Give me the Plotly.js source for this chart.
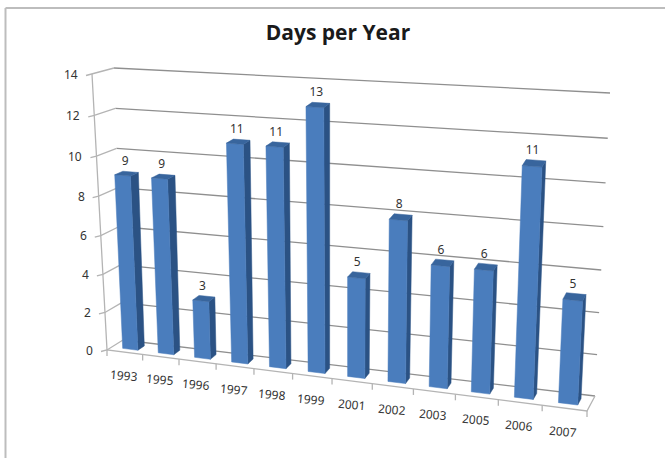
<!DOCTYPE html>
<html>
<head>
<meta charset="utf-8">
<script src="https://cdn.plot.ly/plotly-3.0.1.min.js"></script>
<style>html,body{margin:0;padding:0;background:#fff}#chart{width:665px;height:458px}</style>
</head>
<body>
<div id="chart"></div>
<script>
// Days per year, one column per year
const years = ['1993','1995','1996','1997','1998','1999','2001','2002','2003','2005','2006','2007'];
const days = [9, 9, 3, 11, 11, 13, 5, 8, 6, 6, 11, 5];
const valueTicks = [0, 2, 4, 6, 8, 10, 12, 14];
const chartTitle = 'Days per Year';

const valueMax = 14;
const frontPlane = {bl: [107, 350], br: [587, 411], tl: [92, 74], tr: [602, 108]};
const backPlane = {bl: [123, 340], br: [595, 396], tl: [114, 68], tr: [610, 93]};
const barStart = 0.31, barEnd = 0.74, depthNear = 0.3, depthFar = 0.72;
const foreshorten = 0.025;

const ink = '#333333', gridColor = '#8f8f8f', axisColor = '#b4b4b4';
const frontColor = '#4a7dbd', sideColor = '#2b5284', topColor = '#38659d';

// Perspective map of a unit square on to a four-cornered plane
function planeMap(c) {
  const dx1 = c.br[0] - c.tr[0], dx2 = c.tl[0] - c.tr[0], sx = c.bl[0] - c.br[0] + c.tr[0] - c.tl[0];
  const dy1 = c.br[1] - c.tr[1], dy2 = c.tl[1] - c.tr[1], sy = c.bl[1] - c.br[1] + c.tr[1] - c.tl[1];
  const det = dx1 * dy2 - dx2 * dy1;
  const g = (sx * dy2 - dx2 * sy) / det, h = (dx1 * sy - sx * dy1) / det;
  const a = c.br[0] - c.bl[0] + g * c.br[0], b = c.tl[0] - c.bl[0] + h * c.tl[0];
  const d = c.br[1] - c.bl[1] + g * c.br[1], e = c.tl[1] - c.bl[1] + h * c.tl[1];
  return (u, v) => {
    const w = g * u + h * v + 1;
    return [(a * u + b * v + c.bl[0]) / w, (d * u + e * v + c.bl[1]) / w];
  };
}
const onFront = planeMap(frontPlane), onBack = planeMap(backPlane);

// slot: position along the category axis in slots, value: axis value, depth: 0 front to 1 back
function project(slot, value, depth) {
  const s = slot / years.length;
  const u = s / (1 + foreshorten * (1 - s));
  const f = onFront(u, value / valueMax);
  const b = onBack(u, value / valueMax);
  return [f[0] + (b[0] - f[0]) * depth, f[1] + (b[1] - f[1]) * depth];
}

function pathTrace(points, opts) {
  return Object.assign({
    x: points.map(p => p ? p[0] : null),
    y: points.map(p => p ? p[1] : null),
    mode: 'lines', hoverinfo: 'skip', showlegend: false, connectgaps: false
  }, opts);
}

// Gridlines along the back wall, in a darker grey than the axes
const wallLines = [];
valueTicks.forEach(t => {
  wallLines.push(project(0, t, 1), project(years.length, t, 1), null);
});

// Side wall runs, axis edges and tick marks
const axisLines = [];
valueTicks.forEach(t => {
  const p = project(0, t, 0);
  axisLines.push([p[0] - 6, p[1] + 1.5], p, project(0, t, 1), null);
});
axisLines.push(project(0, valueMax, 0), project(0, 0, 0), project(years.length, 0, 0), project(years.length, 0, 1), null);
for (let i = 0; i <= years.length; i++) {
  const p = project(i, 0, 0);
  axisLines.push(p, [p[0], p[1] + 6], null);
}

// Column faces
const fronts = [], sides = [], tops = [];
days.forEach((v, i) => {
  const a = i + barStart, b = i + barEnd;
  fronts.push(project(a, 0, depthNear), project(b, 0, depthNear), project(b, v, depthNear), project(a, v, depthNear), project(a, 0, depthNear), null);
  sides.push(project(b, 0, depthNear), project(b, 0, depthFar), project(b, v, depthFar), project(b, v, depthNear), project(b, 0, depthNear), null);
  tops.push(project(a, v, depthNear), project(b, v, depthNear), project(b, v, depthFar), project(a, v, depthFar), project(a, v, depthNear), null);
});

const faceStyle = color => ({fill: 'toself', fillcolor: color, line: {color: color, width: 0.5}});

const valuePoints = days.map((v, i) => {
  const p = project(i + (barStart + barEnd) / 2, v, (depthNear + depthFar) / 2);
  return [p[0] - 1.5, p[1] - 12];
});

const traces = [
  pathTrace(wallLines, {line: {color: gridColor, width: 1.3}}),
  pathTrace(axisLines, {line: {color: axisColor, width: 1.3}}),
  pathTrace(sides, faceStyle(sideColor)),
  pathTrace(fronts, faceStyle(frontColor)),
  pathTrace(tops, faceStyle(topColor)),
  {
    x: valuePoints.map(p => p[0]), y: valuePoints.map(p => p[1]),
    text: days.map(String), mode: 'text', textposition: 'middle center',
    textfont: {family: 'Noto Sans, sans-serif', size: 12, color: ink},
    hoverinfo: 'skip', showlegend: false
  }
];

const annotations = [];
years.forEach((y, i) => {
  const p = project(i + 0.5, 0, 0);
  annotations.push({
    x: p[0] - 1, y: p[1] + 23, text: y, showarrow: false, textangle: 5,
    xanchor: 'center', yanchor: 'middle',
    font: {family: 'Noto Sans, sans-serif', size: 12, color: ink}
  });
});
valueTicks.forEach(t => {
  const p = project(0, t, 0);
  annotations.push({
    x: p[0] - 12, y: p[1], text: String(t), showarrow: false,
    xanchor: 'right', yanchor: 'middle',
    font: {family: 'Noto Sans, sans-serif', size: 12, color: ink}
  });
});

const hiddenAxis = range => ({range, visible: false, fixedrange: true});

Plotly.newPlot('chart', traces, {
  width: 665, height: 458,
  margin: {l: 0, r: 0, t: 0, b: 0, pad: 0},
  paper_bgcolor: '#ffffff', plot_bgcolor: '#ffffff',
  title: {text: '<b>' + chartTitle + '</b>', x: 338 / 665, xanchor: 'center', y: 1 - 33 / 458, yanchor: 'middle',
          font: {family: 'Open Sans, sans-serif', size: 21, color: '#1a1a1a'}},
  xaxis: hiddenAxis([0, 665]),
  yaxis: hiddenAxis([458, 0]),
  annotations,
  shapes: [
    {type: 'line', xref: 'x', yref: 'y', x0: 5.5, y0: 8, x1: 665, y1: 8, line: {color: '#bdbdbd', width: 2}},
    {type: 'line', xref: 'x', yref: 'y', x0: 5.5, y0: 8, x1: 5.5, y1: 458, line: {color: '#bdbdbd', width: 2}}
  ]
}, {displayModeBar: false, staticPlot: true});
</script>
</body>
</html>
